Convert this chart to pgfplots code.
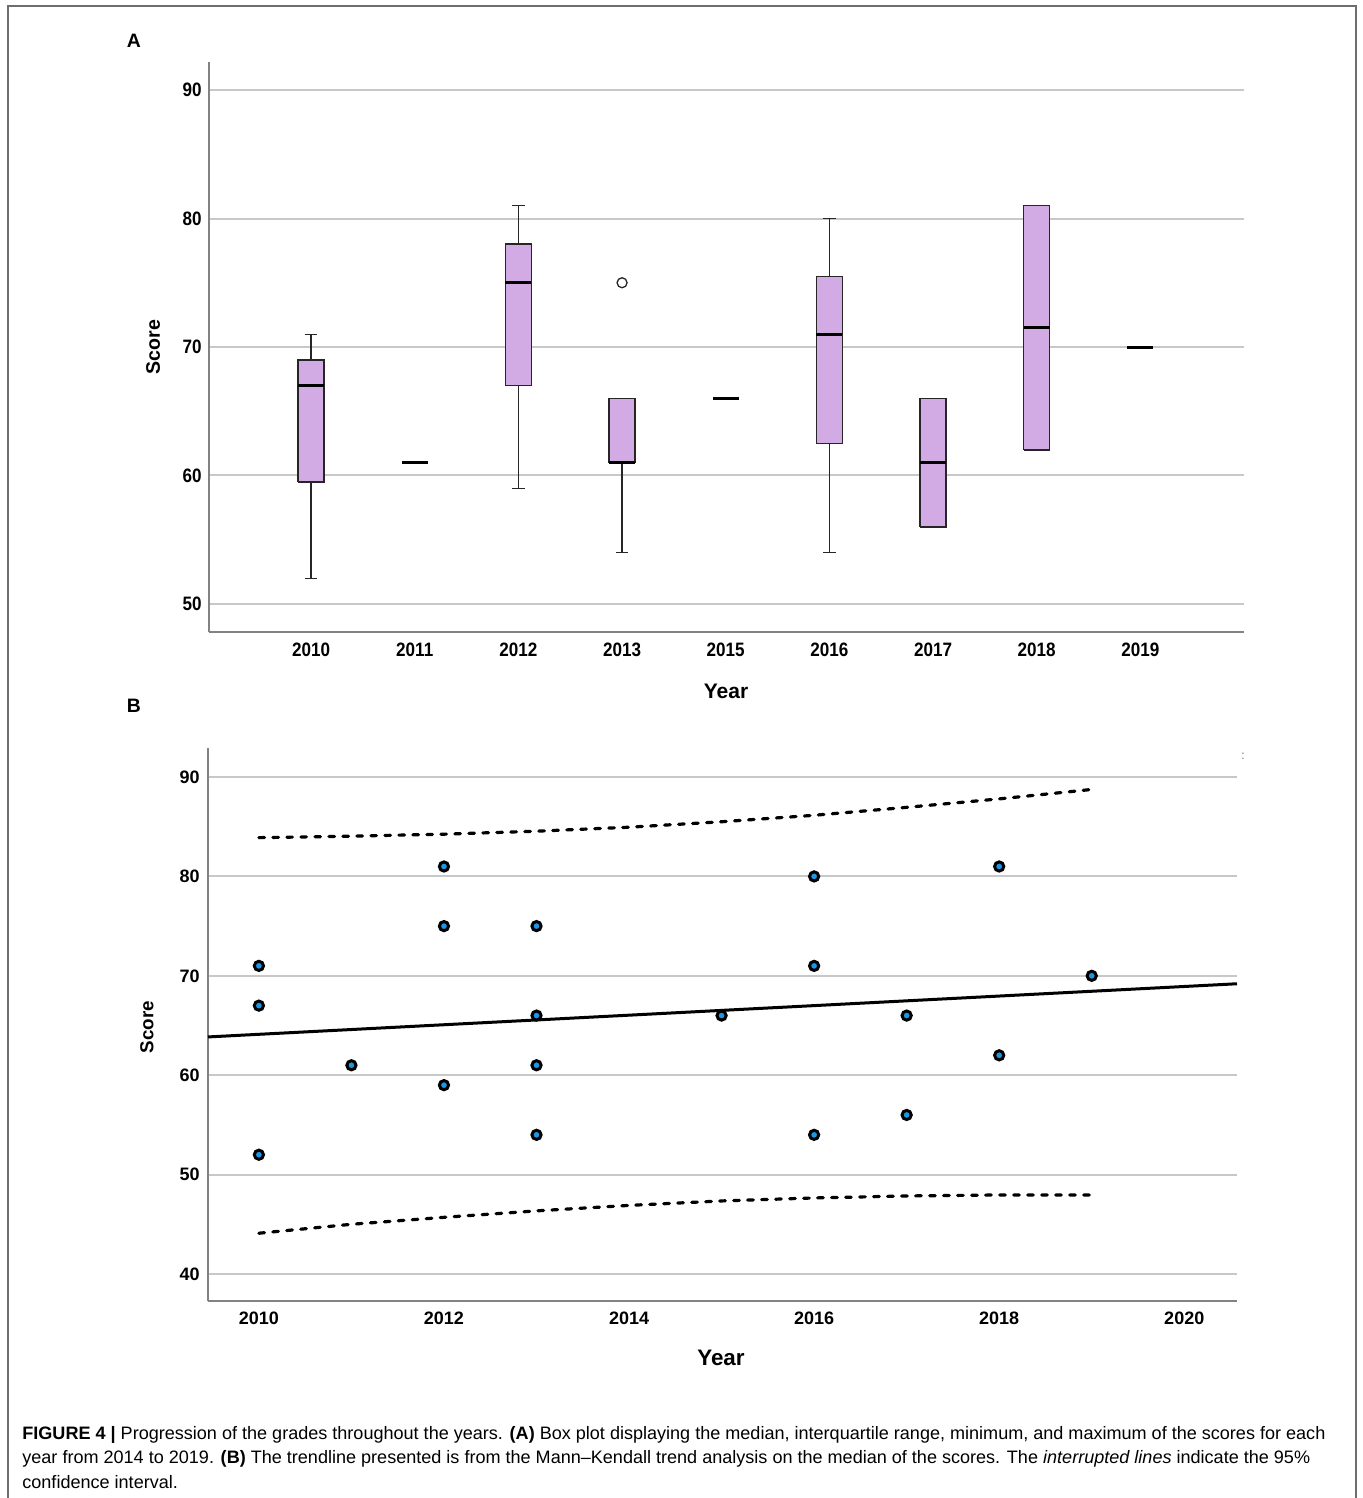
\documentclass[border=0pt]{standalone}
\usepackage{pgfplots}
\pgfplotsset{compat=1.18}
\usepackage{fontspec}
\usepackage{graphicx}
\setmainfont{Liberation Sans}
\newfontfamily\narrowfont[FakeStretch=0.88]{Liberation Sans}
\definecolor{boxfill}{RGB}{210,170,228}
\definecolor{ptblue}{RGB}{30,150,230}
\definecolor{gridgray}{RGB}{200,200,200}
\definecolor{axgray}{RGB}{130,130,130}
\definecolor{framegray}{RGB}{110,110,110}
\newsavebox\capone
\newcommand\capfont{\fontsize{9}{12}\selectfont}
\pgfplotsset{
  boxst/.style={fill=boxfill, draw=black!85, line width=0.75pt},
  medst/.style={black, line width=1.5pt},
  whst/.style={black!85, line width=0.65pt},
}
\begin{document}
\sbox\capone{\capfont\textbf{FIGURE 4 |} Progression of the grades throughout the years. \textbf{(A)} Box plot displaying the median, interquartile range, minimum, and maximum of the scores for each}%
\pgfmathsetmacro\capratio{651.5/\the\wd\capone}%
\begin{tikzpicture}
\useasboundingbox (0,0) rectangle (681pt,-749pt);
% frame
\draw[framegray, line width=1pt] (4pt,-752pt) -- (4pt,-3pt) -- (678pt,-3pt) -- (678pt,-752pt);
% panel letters
\node[font=\bfseries\fontsize{9.7}{11}\selectfont] at (67pt,-20.5pt) {A};
\node[font=\bfseries\fontsize{9.7}{11}\selectfont] at (67pt,-353pt) {B};
\node[text=black!60, font=\fontsize{6}{7}\selectfont] at (621.5pt,-378pt) {:};
% ---------------- panel A ----------------
\begin{axis}[
  at={(104.5pt,-316pt)}, anchor=south west,
  scale only axis, width=517.5pt, height=285pt,
  xmin=-0.985, xmax=9, ymin=47.82, ymax=92.18,
  axis x line*=bottom, axis y line*=left,
  axis line style={draw=axgray, line width=1pt, -},
  ymajorgrids, grid style={gridgray, line width=1pt},
  major tick length=0pt,
  xtick={0,1,2,3,4,5,6,7,8},
  xticklabels={2010,2011,2012,2013,2015,2016,2017,2018,2019},
  ytick={50,60,70,80,90},
  yticklabels={50,60,70,80,90},
  tick label style={font=\narrowfont\bfseries\fontsize{9.7}{11}\selectfont, inner sep=0pt},
  xticklabel style={anchor=center, yshift=-9pt},
  yticklabel style={anchor=east, xshift=-3.5pt},
  xlabel={Year}, ylabel={Score},
  xlabel style={at={(axis description cs:0.4995,-0.1035)}, anchor=center, font=\bfseries\fontsize{10.5}{12}\selectfont},
  ylabel style={at={(axis description cs:-0.0541,0.5)}, anchor=center, font=\bfseries\fontsize{9.8}{12}\selectfont},
  clip=false,
]
% 2010 (position 0): min 52, Q1 59.5, median 67, Q3 69, max 71
\addplot[whst] coordinates {(0,52) (0,59.5)};
\addplot[whst] coordinates {(0,69) (0,71)};
\addplot[whst] coordinates {(-0.06,52) (0.06,52)};
\addplot[whst] coordinates {(-0.06,71) (0.06,71)};
\addplot[boxst] coordinates {(-0.125,59.5) (0.125,59.5) (0.125,69) (-0.125,69) (-0.125,59.5)};
\addplot[medst] coordinates {(-0.125,67) (0.125,67)};
% 2011 (position 1): single value 61
\addplot[medst] coordinates {(0.875,61) (1.125,61)};
% 2012 (position 2): min 59, Q1 67, median 75, Q3 78, max 81
\addplot[whst] coordinates {(2,59) (2,67)};
\addplot[whst] coordinates {(2,78) (2,81)};
\addplot[whst] coordinates {(1.94,59) (2.06,59)};
\addplot[whst] coordinates {(1.94,81) (2.06,81)};
\addplot[boxst] coordinates {(1.875,67) (2.125,67) (2.125,78) (1.875,78) (1.875,67)};
\addplot[medst] coordinates {(1.875,75) (2.125,75)};
% 2013 (position 3): min 54, Q1 61, median 61, Q3 66, max 66, outlier 75
\addplot[whst] coordinates {(3,54) (3,61)};
\addplot[whst] coordinates {(2.94,54) (3.06,54)};
\addplot[boxst] coordinates {(2.875,61) (3.125,61) (3.125,66) (2.875,66) (2.875,61)};
\addplot[medst] coordinates {(2.875,61) (3.125,61)};
\addplot[only marks, mark=*, mark size=2.5pt, mark options={fill=white, draw=black!85, line width=0.65pt}] coordinates {(3,75)};
% 2015 (position 4): single value 66
\addplot[medst] coordinates {(3.875,66) (4.125,66)};
% 2016 (position 5): min 54, Q1 62.5, median 71, Q3 75.5, max 80
\addplot[whst] coordinates {(5,54) (5,62.5)};
\addplot[whst] coordinates {(5,75.5) (5,80)};
\addplot[whst] coordinates {(4.94,54) (5.06,54)};
\addplot[whst] coordinates {(4.94,80) (5.06,80)};
\addplot[boxst] coordinates {(4.875,62.5) (5.125,62.5) (5.125,75.5) (4.875,75.5) (4.875,62.5)};
\addplot[medst] coordinates {(4.875,71) (5.125,71)};
% 2017 (position 6): Q1 56, median 61, Q3 66
\addplot[boxst] coordinates {(5.875,56) (6.125,56) (6.125,66) (5.875,66) (5.875,56)};
\addplot[medst] coordinates {(5.875,61) (6.125,61)};
% 2018 (position 7): Q1 62, median 71.5, Q3 81
\addplot[boxst] coordinates {(6.875,62) (7.125,62) (7.125,81) (6.875,81) (6.875,62)};
\addplot[medst] coordinates {(6.875,71.5) (7.125,71.5)};
% 2019 (position 8): single value 70
\addplot[medst] coordinates {(7.875,70) (8.125,70)};
\end{axis}
% ---------------- panel B ----------------
\begin{axis}[
  at={(104pt,-650.5pt)}, anchor=south west,
  scale only axis, width=514.5pt, height=276.5pt,
  xmin=2009.45, xmax=2020.57, ymin=37.28, ymax=92.92,
  axis x line*=bottom, axis y line*=left,
  axis line style={draw=axgray, line width=1pt, -},
  ymajorgrids, grid style={gridgray, line width=1pt},
  major tick length=0pt,
  xtick={2010,2012,2014,2016,2018,2020},
  xticklabels={2010,2012,2014,2016,2018,2020},
  ytick={40,50,60,70,80,90},
  yticklabels={40,50,60,70,80,90},
  tick label style={font=\bfseries\fontsize{9}{11}\selectfont, inner sep=0pt},
  xticklabel style={anchor=center, yshift=-8.5pt},
  yticklabel style={anchor=east, xshift=-4pt},
  xlabel={Year}, ylabel={Score},
  xlabel style={at={(axis description cs:0.4985,-0.1031)}, anchor=center, font=\bfseries\fontsize{11.2}{13}\selectfont},
  ylabel style={at={(axis description cs:-0.0593,0.4955)}, anchor=center, font=\bfseries\fontsize{9.4}{12}\selectfont},
  clip=false,
]
\addplot[black, line width=1.6pt, line cap=round, dash pattern=on 2.8pt off 4.2pt] coordinates {
 (2010,83.9) (2011,84.05) (2012,84.25) (2013,84.55) (2014,84.95) (2015,85.5) (2016,86.15) (2017,86.95) (2018,87.8) (2019,88.75)};
\addplot[black, line width=1.6pt, line cap=round, dash pattern=on 2.8pt off 4.2pt] coordinates {
 (2010,44.1) (2011,45.0) (2012,45.7) (2013,46.35) (2014,46.9) (2015,47.35) (2016,47.65) (2017,47.85) (2018,47.95) (2019,47.95)};
\addplot[black, line width=1.5pt] coordinates {(2009.45,63.85) (2020.57,69.2)};
\addplot[only marks, mark=*, mark size=2.3pt, mark options={fill=ptblue, draw=black, line width=1.5pt}] coordinates {
 (2010,71) (2010,67) (2010,52)
 (2011,61)
 (2012,81) (2012,75) (2012,59)
 (2013,75) (2013,66) (2013,61) (2013,54)
 (2015,66)
 (2016,80) (2016,71) (2016,54)
 (2017,66) (2017,56)
 (2018,81) (2018,62)
 (2019,70)};
\end{axis}
% caption
\node[anchor=base west, inner sep=0pt] at (11pt,-719.5pt) {\scalebox{\capratio}[1]{\usebox\capone}};
\node[anchor=base west, inner sep=0pt] at (11pt,-731.8pt) {\scalebox{\capratio}[1]{\capfont year from 2014 to 2019. \textbf{(B)} The trendline presented is from the Mann–Kendall trend analysis on the median of the scores. The \textit{interrupted lines} indicate the 95\%}};
\node[anchor=base west, inner sep=0pt] at (11pt,-744pt) {\scalebox{\capratio}[1]{\capfont confidence interval.}};
\end{tikzpicture}
\end{document}
